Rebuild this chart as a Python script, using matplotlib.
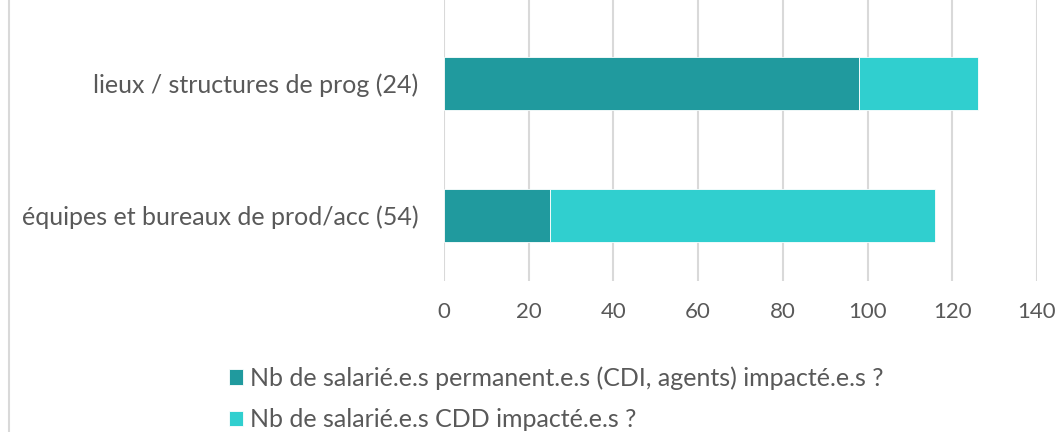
import matplotlib
matplotlib.use("Agg")
import matplotlib.pyplot as plt
from matplotlib.lines import Line2D

categories = ["lieux / structures de prog (24)", "équipes et bureaux de prod/acc (54)"]
permanent = [98, 25]
cdd = [28, 91]
series_labels = ["Nb de salarié.e.s permanent.e.s (CDI, agents) impacté.e.s ?",
                 "Nb de salarié.e.s CDD impacté.e.s ?"]
xticks = [0, 20, 40, 60, 80, 100, 120, 140]

c_dark = "#209A9E"
c_light = "#30CFCF"
txt = "#595959"
grid = "#D9D9D9"

plt.rcParams['font.family'] = ['Lato', 'DejaVu Sans']

fig = plt.figure(figsize=(10.55, 4.32), dpi=100)
ax = fig.add_axes([444/1055, 1 - 281.4/432, (1037-444)/1055, 281.4/432])

y = list(range(len(categories)))
b1 = ax.barh(y, permanent, height=0.4, color=c_dark, edgecolor="white", linewidth=0.6, zorder=3)
b2 = ax.barh(y, cdd, left=permanent, height=0.4, color=c_light, edgecolor="white", linewidth=0.6, zorder=3)

ax.set_xlim(0, 140)
ax.set_ylim(1.5, -0.635)
ax.set_xticks(xticks)
ax.set_yticks(y)
ax.set_yticklabels(categories)
ax.grid(axis="x", color=grid, linewidth=1.5, zorder=0)
for s in ax.spines.values():
    s.set_visible(False)
ax.tick_params(axis="both", length=0, labelcolor=txt)
ax.tick_params(axis="y", pad=18.5, labelsize=18)
ax.tick_params(axis="x", pad=15, labelsize=16)

fig.add_artist(Line2D([9/1055, 9/1055], [0, 1], color=grid, linewidth=1.5, transform=fig.transFigure))

fig.legend([b1, b2], series_labels, loc="upper left", bbox_to_anchor=(219/1055, 1 - 356/432),
           frameon=False, handlelength=0.55, handleheight=0.6, handletextpad=0.3,
           labelspacing=0.75, fontsize=18, labelcolor=txt, borderaxespad=0)

fig.savefig("out.png", dpi=100)
